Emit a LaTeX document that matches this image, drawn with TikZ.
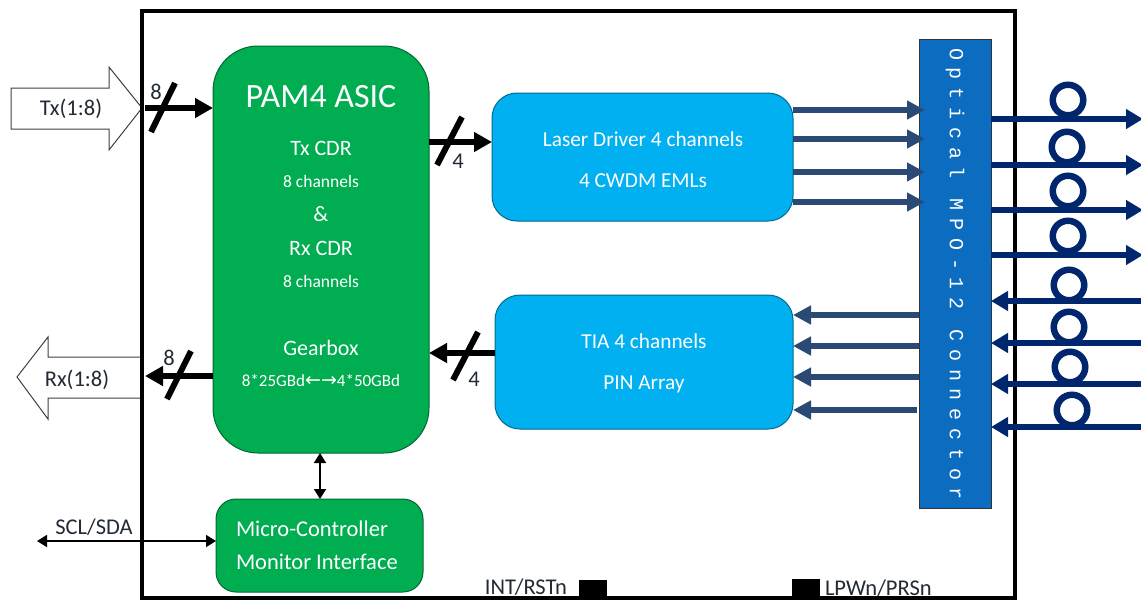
\documentclass[tikz,border=0pt]{standalone}
\usepackage{fontspec}
\setmainfont{Carlito}
\newfontfamily\spacedfont[LetterSpace=39]{Liberation Mono}
\newfontfamily\arrowfont{DejaVu Sans}
\usetikzlibrary{arrows.meta,calc}
\definecolor{asicgreen}{HTML}{00AD50}
\definecolor{boxblue}{HTML}{00B0F0}
\definecolor{connblue}{HTML}{0B6CC0}
\definecolor{navy}{HTML}{00266E}
\definecolor{steel}{HTML}{2A4A75}
\definecolor{inktext}{HTML}{222A35}
\tikzset{
  x=1pt,y=-1pt,
  every node/.style={outer sep=0pt},
  block/.style={draw=#1!60!black,line width=1pt,rounded corners=25pt,inner sep=0pt,anchor=north west},
  wt/.style={text=white,inner sep=0pt,font=\fontsize{22}{22}\selectfont},
  wts/.style={text=white,inner sep=0pt,font=\fontsize{17.5}{17.5}\selectfont},
  lab/.style={text=inktext,inner sep=0pt,font=\fontsize{22.5}{22.5}\selectfont},
  bus/.style={line width=6pt,-{Triangle[length=18pt,width=19pt]}},
  slash/.style={line width=6pt},
  fibre/.style={navy,line width=6pt,-{Triangle[length=17pt,width=19pt]}},
  lane/.style={steel,line width=6.5pt,-{Triangle[length=18pt,width=18pt]}},
  loopc/.style={draw=navy,line width=6.5pt,circle,minimum size=30.5pt,inner sep=0pt},
  ctrl/.style={line width=1.6pt,{Triangle[length=10pt,width=12pt]}-{Triangle[length=10pt,width=12pt]}},
  portarrow/.style={draw=black!75,line width=1pt,fill=white},
  pin/.style={fill=black,draw=none,inner sep=0pt,minimum height=18pt,minimum width=28pt,anchor=north west},
}
\begin{document}
\begin{tikzpicture}
\useasboundingbox (0,0) rectangle (1141,600);
% port arrows
\draw[portarrow] (11,88) -- (109,88) -- (109,67) -- (142,108) -- (109,150) -- (109,129) -- (11,129) -- cycle;
\node[lab] (txl) at (71,109) {Tx(1:8)};
\draw[portarrow] (17,377) -- (48,337) -- (48,357) -- (142,357) -- (142,398) -- (48,398) -- (48,419) -- cycle;
\node[lab] (rxl) at (77,380) {Rx(1:8)};
% outer frame
\node[draw=black,line width=4.5pt,inner sep=0pt,minimum width=873pt,minimum height=587pt,anchor=north west] (frame) at (142,11) {};
% blocks
\node[block=asicgreen,fill=asicgreen,rounded corners=45pt,minimum width=216pt,minimum height=407pt] (asic) at (213,46) {};
\node[block=boxblue,fill=boxblue,minimum width=301pt,minimum height=128pt] (laser) at (492,93) {};
\node[block=boxblue,fill=boxblue,minimum width=298pt,minimum height=134pt] (tia) at (495,295) {};
\node[block=asicgreen,fill=asicgreen,rounded corners=20pt,minimum width=207pt,minimum height=93pt] (micro) at (216,499) {};
\node[draw=black!80,line width=1pt,fill=connblue,inner sep=0pt,minimum width=72pt,minimum height=469pt,anchor=north west] (mpo) at (919,39) {};
% block text
\node[wt,font=\fontsize{34}{34}\selectfont] (t1) at (321,97) {PAM4 ASIC};
\node[wt] (t2) at (321,148) {Tx CDR};
\node[wts] (t3) at (321,181) {8 channels};
\node[wt] (t4) at (321,214) {\&};
\node[wt] (t5) at (321,248) {Rx CDR};
\node[wts] (t6) at (321,281) {8 channels};
\node[wt] (t7) at (321,348) {Gearbox};
\node[wts,font=\fontsize{17}{17}\selectfont] (t8) at (321,381) {8*25GBd{\arrowfont\fontsize{19}{17}\selectfont ←→}4*50GBd};
\node[wt,font=\fontsize{21.3}{21.3}\selectfont] (t9) at (643,139) {Laser Driver 4 channels};
\node[wt,font=\fontsize{21.3}{21.3}\selectfont] (t10) at (643,181) {4 CWDM EMLs};
\node[wt,font=\fontsize{21.3}{21.3}\selectfont] (t11) at (644,341) {TIA 4 channels};
\node[wt,font=\fontsize{21.3}{21.3}\selectfont] (t12) at (644,384) {PIN Array};
\node[wt,font=\fontsize{22.5}{22.5}\selectfont,anchor=west] (t13) at (236,529) {Micro-Controller};
\node[wt,font=\fontsize{22.5}{22.5}\selectfont,anchor=west] (t14) at (236,562) {Monitor Interface};
\node[text=white,inner sep=0pt,rotate=-90,font=\spacedfont\fontsize{20}{20}\selectfont] (t15) at (955,274) {Optical MPO-12 Connector};
% bus arrows
\coordinate (txin) at (145,108);
\coordinate (rxout) at (145,376);
\draw[bus] (txin) -- (asic.west |- txin);
\draw[bus] (asic.west |- rxout) -- (rxout);
\draw[bus] (asic.east |- 0,142) -- (laser.west |- 0,142);
\draw[bus] (tia.west |- 0,353) -- (asic.east |- 0,353);
\draw[slash] (151,132) -- (175,83);
\draw[slash] (167,399) -- (191,351);
\draw[slash] (437,165) -- (462,117);
\draw[slash] (453,380) -- (478,332);
\node[lab] (n8a) at (156,92) {8};
\node[lab] (n8b) at (169,358) {8};
\node[lab] (n4a) at (458,161) {4};
\node[lab] (n4b) at (474,379) {4};
% lanes
\foreach \y in {110,139,172,202} \draw[lane] (laser.east |- 0,\y) -- ($(mpo.west |- 0,\y)+(6,0)$);
\foreach \y in {315,346,377} \draw[lane] (mpo.west |- 0,\y) -- (tia.east |- 0,\y);
\draw[lane] ($(mpo.west |- 0,410)+(-2,0)$) -- (tia.east |- 0,410);
% control
\draw[ctrl] (asic.south -| 320,0) -- (micro.north -| 320,0);
\coordinate (sda) at (37,541);
\draw[ctrl] (sda) -- (micro.west |- sda);
\node[lab] (sdal) at (94,527) {SCL/SDA};
% fibres and loops
\foreach \x/\y in {1068/100,1067/147,1068/191,1068/236,1069/285,1069/327,1070/367,1072/410}
  \node[loopc] at (\x,\y) {};
\coordinate (fo) at (1143,0);
\foreach \y in {119,165,210,255} \draw[fibre] (mpo.east |- 0,\y) -- (fo |- 0,\y);
\foreach \y in {301,343,384,427} \draw[fibre] (fo |- 0,\y) -- (mpo.east |- 0,\y);
% pins
\node[pin] (p1) at (579,580) {};
\node[pin,minimum height=19pt] (p2) at (792,579) {};
\node[lab,anchor=east] (l1) at (567,587) {INT/RSTn};
\node[lab,anchor=west] (l2) at (825,588) {LPWn/PRSn};
\end{tikzpicture}
\end{document}
